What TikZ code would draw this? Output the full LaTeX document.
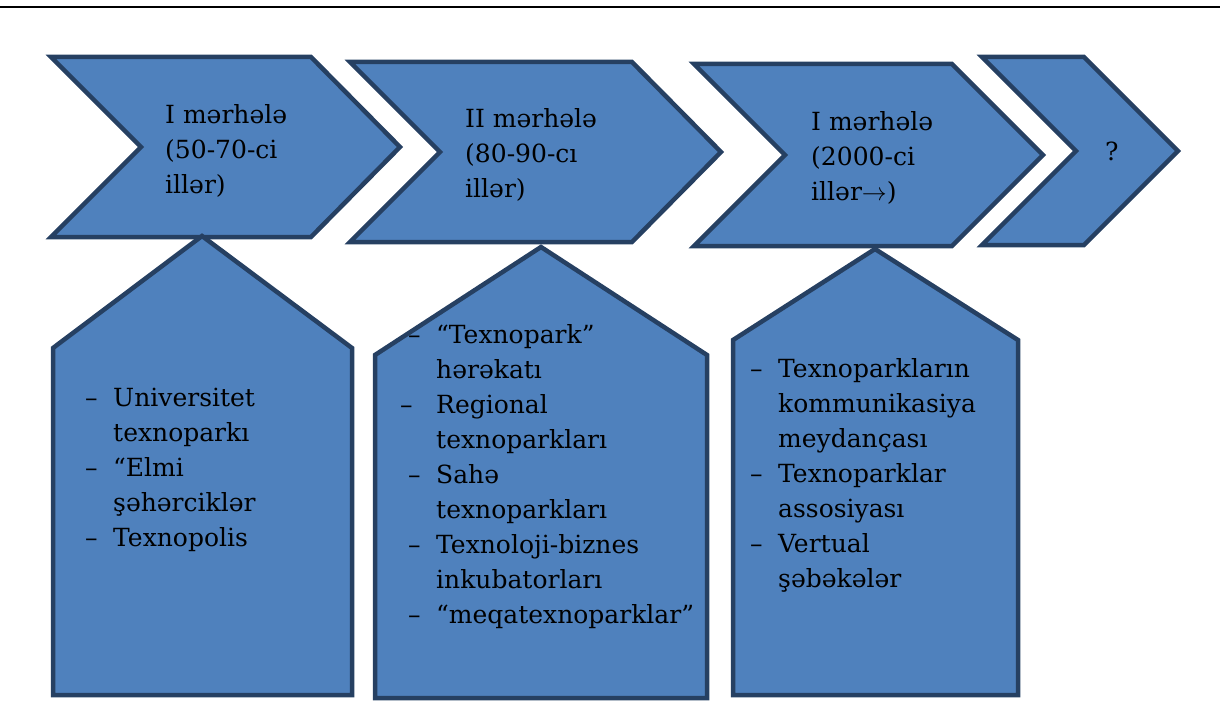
\documentclass[tikz,border=0pt]{standalone}
\usepackage{fontspec}
\setmainfont{DejaVu Serif}
\definecolor{stagefill}{RGB}{79,129,189}
\definecolor{stageline}{RGB}{38,64,98}
\newcommand{\dashitem}{\makebox[28pt][l]{–}}
\newcommand{\contline}{\hspace*{28pt}}

\begin{document}
\begin{tikzpicture}[x=1pt,y=-1pt,
  stage/.style={fill=stagefill,draw=stageline,line width=4.5pt,line join=miter},
  label/.style={anchor=north west,inner sep=0pt,align=left,font=\fontsize{25}{35}\selectfont}]
\useasboundingbox (0,0) rectangle (1220,709);
\draw[line width=2pt] (0,7) -- (1220,7);
% chevrons
\draw[stage] (51,57) -- (311,57) -- (400,147) -- (311,237) -- (51,237) -- (141,147) -- cycle;
\draw[stage] (350,62) -- (632,62) -- (721,152) -- (632,242) -- (350,242) -- (440,152) -- cycle;
\draw[stage] (694,64) -- (952,64) -- (1043,155) -- (952,246) -- (694,246) -- (785,155) -- cycle;
\draw[stage] (982,57) -- (1084,57) -- (1178,151) -- (1084,245) -- (982,245) -- (1076,151) -- cycle;
% pentagons
\draw[stage] (202,236) -- (352,348) -- (352,695) -- (53,695) -- (53,348) -- cycle;
\draw[stage] (541,247) -- (707,355) -- (707,698) -- (375,698) -- (375,355) -- cycle;
\draw[stage] (875,249) -- (1018,340) -- (1018,695) -- (733,695) -- (733,340) -- cycle;
% texts
\node[label] (st1) at (165,104) {I mərhələ\\(50-70-ci\\illər)};
\node[label] (st2) at (465,108) {II mərhələ\\(80-90-cı\\illər)};
\node[label] (st3) at (811,111) {I mərhələ\\(2000-ci\\illər$\rightarrow$)};
\node[label,anchor=base west] (st4) at (1105,160) {?};
\node[label] (list1) at (85,388) {\dashitem Universitet\\\contline texnoparkı\\\dashitem “Elmi\\\contline şəhərciklər\\\dashitem Texnopolis};
\node[label] (list2) at (408,324) {\dashitem “Texnopark”\\\contline hərəkatı\\\hspace*{-8pt}\makebox[36pt][l]{–}Regional\\\contline texnoparkları\\\dashitem Sahə\\\contline texnoparkları\\\dashitem Texnoloji-biznes\\\contline inkubatorları\\\dashitem “meqatexnoparklar”};
\node[label] (list3) at (750,358) {\dashitem Texnoparkların\\\contline kommunikasiya\\\contline meydançası\\\dashitem Texnoparklar\\\contline assosiyası\\\dashitem Vertual\\\contline şəbəkələr};
\end{tikzpicture}
\end{document}
